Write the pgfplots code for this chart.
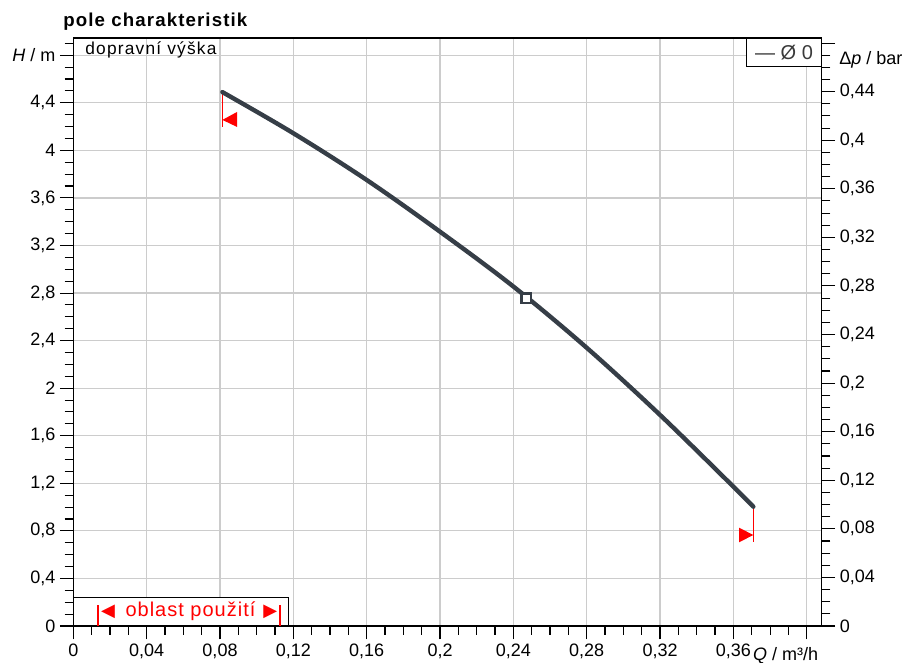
\documentclass[border=0pt]{standalone}
\usepackage{fontspec}
\setmainfont{Liberation Sans}
\newfontfamily\dejavu{DejaVu Sans}
\usepackage{pgfplots}
\pgfplotsset{compat=1.18}
\definecolor{curvec}{HTML}{363E47}
\definecolor{gridc}{HTML}{CCCCCC}
\definecolor{legc}{HTML}{3A3A3A}
\begin{document}
\begin{tikzpicture}
\pgfplotsset{
  common/.style={
    at={(0,0)}, anchor=south west,
    scale only axis, width=561.3pt, height=441pt,
    xmin=0, xmax=0.4082,
    tick align=outside,
    scaled ticks=false,
    major tick length=10pt, minor tick length=6.5pt,
    tick style={black, line width=0.8pt},
    axis line style={black, line width=1pt},
    ticklabel style={font=\fontsize{13.5}{16}\selectfont},
    clip=false,
  }
}
\begin{axis}[common,
  ymin=0, ymax=4.945,
  xtick={0,0.04,0.08,0.12,0.16,0.2,0.24,0.28,0.32,0.36,0.4},
  xticklabels={0,{0,04},{0,08},{0,12},{0,16},{0,2},{0,24},{0,28},{0,32},{0,36},{}},
  ytick={0,0.4,0.8,1.2,1.6,2,2.4,2.8,3.2,3.6,4,4.4,4.8},
  yticklabels={0,{0,4},{0,8},{1,2},{1,6},2,{2,4},{2,8},{3,2},{3,6},4,{4,4},{\textit{H} / m}},
  minor xtick={0.01,0.02,0.03,0.05,0.06,0.07,0.09,0.10,0.11,0.13,0.14,0.15,0.17,0.18,0.19,0.21,0.22,0.23,0.25,0.26,0.27,0.29,0.30,0.31,0.33,0.34,0.35,0.37,0.38,0.39},
  minor ytick={0.1,0.2,0.3,0.5,0.6,0.7,0.9,1.0,1.1,1.3,1.4,1.5,1.7,1.8,1.9,2.1,2.2,2.3,2.5,2.6,2.7,2.9,3.0,3.1,3.3,3.4,3.5,3.7,3.8,3.9,4.1,4.2,4.3,4.5,4.6,4.7,4.9},
  xtick pos=bottom, ytick pos=left,
  grid=major, major grid style={gridc, line width=0.9pt},
]
\addplot[red, line width=0.8pt] coordinates {(0.0813,4.49) (0.0813,4.2)};
\addplot[fill=red, draw=none] coordinates {(0.0813,4.256) (0.0893,4.323) (0.0893,4.197) (0.0813,4.256)};
\addplot[red, line width=0.8pt] coordinates {(0.3709,1.003) (0.3709,0.709)};
\addplot[fill=red, draw=none] coordinates {(0.3709,0.765) (0.3631,0.827) (0.3631,0.704) (0.3709,0.765)};
\addplot[curvec, line width=3.3pt, line cap=round, smooth, tension=0.55] coordinates {
  (0.0813,4.49) (0.12,4.144) (0.16,3.751) (0.2,3.316) (0.24,2.855)
  (0.28,2.34) (0.32,1.775) (0.36,1.172) (0.3709,1.003)};
\addplot[only marks, mark=square*, mark size=3.6pt,
  mark options={fill=white, draw=curvec, line width=1.8pt}] coordinates {(0.247,2.755)};
\node[anchor=base west, inner sep=0pt, font=\bfseries\fontsize{14}{16}\selectfont\addfontfeatures{LetterSpace=6}, xshift=-7.7pt, yshift=8.7pt]
  at (rel axis cs:0,1) {pole charakteristik};
\node[anchor=base west, font=\fontsize{13}{15}\selectfont\addfontfeatures{LetterSpace=7}, xshift=8.8pt, yshift=-12.5pt, inner sep=0pt]
  at (rel axis cs:0,1) {dopravní výška};
\node[draw=black, fill=white, line width=0.8pt, anchor=north east, minimum width=55.8pt,
  minimum height=20.8pt, inner sep=0pt, text=legc, font=\fontsize{15}{17}\selectfont]
  at (rel axis cs:1,1) {— Ø 0};
\draw[black, line width=0.8pt, fill=white] (rel axis cs:0,0) rectangle ++(161.25pt,21.5pt);
\node[anchor=base west, inner sep=0pt, text=red, font=\fontsize{15}{17}\selectfont, xshift=17.8pt, yshift=7pt]
  at (rel axis cs:0,0) {\rule[-7pt]{1.6pt}{15.75pt}\hspace{1.2pt}{\dejavu\fontsize{13.5}{15}\selectfont ◀}\hspace{8pt}{\addfontfeatures{LetterSpace=5}oblast použití}\hspace{6pt}{\dejavu\fontsize{13.5}{15}\selectfont ▶}\hspace{1.2pt}\rule[-7pt]{1.6pt}{15.75pt}};
\node[anchor=base west, font=\fontsize{13.5}{16}\selectfont, yshift=-25.6pt, inner sep=0pt]
  at (rel axis cs:0.908,0) {\textit{Q} / m³/h};
\end{axis}
\begin{axis}[common,
  ymin=0, ymax=0.4842,
  axis x line=none, axis y line*=right,
  ytick={0,0.04,0.08,0.12,0.16,0.2,0.24,0.28,0.32,0.36,0.4,0.44,0.48},
  yticklabels={0,{0,04},{0,08},{0,12},{0,16},{0,2},{0,24},{0,28},{0,32},{0,36},{0,4},{0,44},{}},
  minor ytick={0.01,0.02,0.03,0.05,0.06,0.07,0.09,0.10,0.11,0.13,0.14,0.15,0.17,0.18,0.19,0.21,0.22,0.23,0.25,0.26,0.27,0.29,0.30,0.31,0.33,0.34,0.35,0.37,0.38,0.39,0.41,0.42,0.43,0.45,0.46,0.47},
]
\node[anchor=west, font=\fontsize{13.5}{16}\selectfont, xshift=13pt, inner sep=0pt]
  at (axis cs:0.4082,0.466) {Δ\textit{p} / bar};
\end{axis}
\pgfresetboundingbox
\useasboundingbox (-55pt,-27.75pt) rectangle (626pt,469.5pt);
\end{tikzpicture}
\end{document}
